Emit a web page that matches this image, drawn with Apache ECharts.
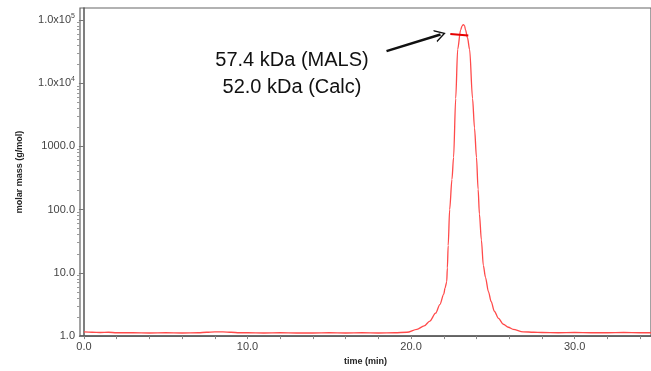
<!DOCTYPE html>
<html>
<head>
<meta charset="utf-8">
<script src="https://cdn.jsdelivr.net/npm/echarts@6/dist/echarts.min.js"></script>
<style>
  html, body { margin: 0; padding: 0; background: #fff; }
  #chart { width: 651px; height: 371px; }
</style>
</head>
<body>
<div id="chart"></div>
<script>
// elution trace (time in min, molar mass in g/mol)
const timeMin = [0, 0.5, 1, 1.5, 2, 3, 4, 5, 6, 7, 7.5, 8, 8.5, 9, 9.5, 10, 11, 12, 13, 14, 15, 16, 17, 18, 19,
  19.75, 20.36, 20.8, 21.15, 21.5, 21.76, 22.0, 22.08, 22.18, 22.22, 22.27, 22.36, 22.5, 22.6, 22.73, 22.85, 23.03, 23.12, 23.2,
  23.27, 23.33, 23.45, 23.58, 23.76, 23.88, 24.0, 24.1, 24.18, 24.3, 24.42, 24.55, 24.73, 24.9, 25.09, 25.35, 25.64, 25.95, 26.24, 26.85,
  27.5, 28, 29, 30, 31, 32, 33, 34, 34.7];
const molarMass = [1.17, 1.15, 1.14, 1.15, 1.13, 1.13, 1.12, 1.13, 1.12, 1.13, 1.15, 1.17, 1.17, 1.15, 1.13, 1.13, 1.12, 1.13, 1.12, 1.12, 1.13, 1.12, 1.13, 1.12, 1.13,
  1.15, 1.28, 1.45, 1.73, 2.3, 3.14, 4.6, 5.8, 7.2, 12, 27, 100, 300, 670, 5700, 34000, 69000, 80000, 84000,
  81000, 69000, 52000, 34000, 5700, 1950, 670, 210, 85, 33, 13.1, 8.5, 5.06, 3.5, 2.47, 1.9, 1.54, 1.38, 1.28, 1.17,
  1.15, 1.14, 1.13, 1.14, 1.13, 1.13, 1.14, 1.13, 1.13];

// MALS molar mass across the peak
const malsTime = [22.4, 22.95, 23.5];
const malsMass = [59500, 58000, 56500];

// annotation arrow (start, tip)
const arrowFrom = [18.5, 32000];
const arrowTo = [21.8, 58500];
const noteLines = ['57.4 kDa (MALS)', '52.0 kDa (Calc)'];

const xLabelValues = [0, 10, 20, 30];
const xTickValues = [0, 2, 4, 6, 8, 10, 12, 14, 16, 18, 20, 22, 24, 26, 28, 30, 32, 34];
const yLabelValues = [1, 10, 100, 1000, 10000, 100000];
const yMinorValues = [];
[1, 10, 100, 1000, 10000, 100000].forEach(d => {
  for (let k = 2; k <= 9; k++) if (d * k < 1.53e5) yMinorValues.push(d * k);
});

const chart = echarts.init(document.getElementById('chart'), null, { renderer: 'canvas' });
const font = '"Liberation Sans", Arial, Helvetica, sans-serif';

function yLabel(v) {
  if (v >= 10000) return '{b|1.0x10}{s|' + Math.round(Math.log10(v)) + '}';
  return '{b|' + v.toFixed(1) + '}';
}

chart.setOption({
  animation: false,
  backgroundColor: '#fff',
  grid: { left: 80, right: -5, top: 8, bottom: 29, show: true, borderColor: '#666', borderWidth: 1.2 },
  xAxis: {
    type: 'value',
    min: -0.24,
    max: 34.67,
    name: 'time (min)',
    nameLocation: 'middle',
    nameGap: 16,
    nameTextStyle: { fontFamily: font, fontWeight: 'bold', fontSize: 9, color: '#222' },
    axisLine: { show: true, lineStyle: { color: '#555', width: 1.5 } },
    axisTick: { show: true, length: 3, customValues: xTickValues, lineStyle: { color: '#888' } },
    axisLabel: {
      customValues: xLabelValues,
      formatter: v => v.toFixed(1),
      fontFamily: font, fontSize: 11, color: '#444', margin: 5
    },
    splitLine: { show: false }
  },
  yAxis: [
    {
      type: 'log',
      logBase: 10,
      min: 1,
      max: 1.535e5,
      name: 'molar mass (g/mol)',
      nameLocation: 'middle',
      nameGap: 56,
      nameTextStyle: { fontFamily: font, fontWeight: 'bold', fontSize: 9, color: '#222' },
      axisLine: { show: true, lineStyle: { color: '#555', width: 1.5 } },
      axisTick: { show: true, length: 5, customValues: yLabelValues, lineStyle: { color: '#777' } },
      axisLabel: {
        customValues: yLabelValues,
        formatter: yLabel,
        margin: 5,
        rich: {
          b: { fontFamily: font, fontSize: 11, color: '#444' },
          s: { fontFamily: font, fontSize: 7, color: '#444', verticalAlign: 'bottom', padding: [0, 0, 8, 0] }
        }
      },
      splitLine: { show: false }
    },
    {
      type: 'log',
      logBase: 10,
      min: 1,
      max: 1.535e5,
      position: 'left',
      axisLine: { show: false },
      axisTick: { show: true, length: 3, customValues: yMinorValues, lineStyle: { color: '#999' } },
      axisLabel: { show: false },
      splitLine: { show: false }
    }
  ],
  graphic: noteLines.map((t, i) => ({
    type: 'text',
    x: 292,
    y: 50 + i * 27,
    style: { text: t, font: '20px ' + font, fill: '#111', textAlign: 'center' }
  })),
  series: [
    {
      type: 'line',
      data: timeMin.map((t, i) => [t, molarMass[i]]),
      showSymbol: false,
      smooth: 0.3,
      smoothMonotone: 'x',
      lineStyle: { color: '#ff4a4a', width: 1.3 },
      markLine: {
        silent: true,
        animation: false,
        label: { show: false },
        lineStyle: { color: '#111', width: 2.5, type: 'solid' },
        data: [[
          { coord: arrowFrom, symbol: 'none' },
          { coord: arrowTo, symbol: 'path://M0,12 L6,0 L12,12 L10.5,12 L6,3 L1.5,12 Z', symbolSize: [13, 11] }
        ]]
      }
    },
    {
      type: 'line',
      data: malsTime.map((t, i) => [t, malsMass[i]]),
      showSymbol: false,
      lineStyle: { color: '#e60000', width: 2 }
    }
  ]
});
</script>
</body>
</html>
